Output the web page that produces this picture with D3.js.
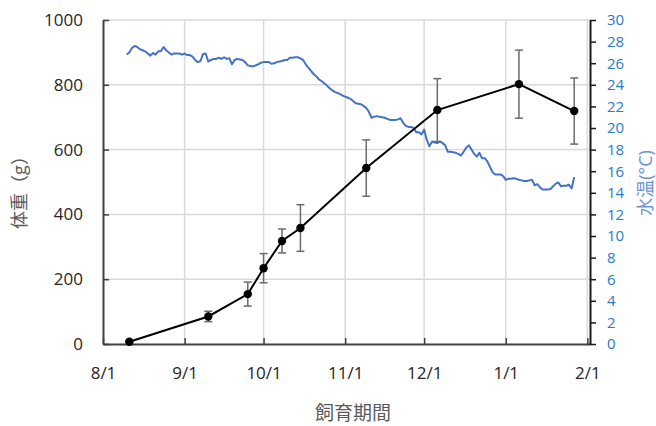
<!DOCTYPE html>
<html>
<head>
<meta charset="utf-8">
<script src="https://cdn.jsdelivr.net/npm/d3@7"></script>
<style>
  html, body { margin: 0; padding: 0; background: #fff; }
  svg { display: block; }
  text { font-family: "Open Sans", "Noto Sans CJK JP", sans-serif; }
</style>
</head>
<body>
<svg id="chart" width="656" height="426"></svg>
<script>
// Body weight samples (mean ± SD, g)
const weightDates = ["2020-08-11", "2020-09-10", "2020-09-25", "2020-10-01", "2020-10-08",
                     "2020-10-15", "2020-11-09", "2020-12-06", "2021-01-06", "2021-01-27"];
const weightMeans = [7, 85, 154, 234, 318, 358, 543, 722, 802, 719];
const weightSD    = [3, 16, 37, 45, 37, 72, 87, 97, 105, 102];

// Daily water temperature (°C), starting on tempStart
const tempStart = "2020-08-10";
const tempValues = [
  26.8, 27.0, 27.4, 27.6, 27.5, 27.3, 27.2, 27.1, 26.9, 26.7,
  26.95, 26.8, 27.1, 27.1, 27.5, 27.2, 27.0, 26.8, 26.9, 26.9,
  26.9, 26.8, 26.9, 26.75, 26.75, 26.6, 26.3, 26.1, 26.2, 26.85,
  26.9, 26.15, 26.3, 26.4, 26.4, 26.5, 26.4, 26.55, 26.4, 26.45,
  25.9, 26.3, 26.4, 26.35, 26.3, 26.1, 25.8, 25.75, 25.7, 25.8,
  25.9, 26.05, 26.1, 26.1, 26.1, 25.95, 26.0, 26.1, 26.15, 26.2,
  26.3, 26.3, 26.5, 26.5, 26.55, 26.55, 26.45, 26.3, 25.9, 25.6,
  25.3, 25.0, 24.8, 24.5, 24.35, 24.15, 23.95, 23.7, 23.5, 23.35,
  23.25, 23.15, 23.0, 22.9, 22.8, 22.7, 22.5, 22.3, 22.25, 22.2,
  22.05, 21.85, 21.5, 20.95, 21.05, 21.1, 21.05, 21.0, 20.95, 20.85,
  20.75, 20.75, 20.75, 20.8, 20.9, 20.5, 20.2, 20.1, 20.1, 20.0,
  19.6, 19.6, 19.4, 19.85, 18.9, 18.3, 18.75, 18.65, 18.6, 18.75,
  18.6, 18.4, 17.8, 17.8, 17.75, 17.7, 17.6, 17.45, 17.8, 18.2,
  18.4, 18.0, 17.6, 17.35, 17.7, 17.2, 17.2, 16.9, 16.4, 15.9,
  15.7, 15.7, 15.7, 15.55, 15.2, 15.3, 15.3, 15.35, 15.3, 15.2,
  15.15, 15.1, 15.1, 15.15, 15.2, 14.7, 14.8, 14.5, 14.3, 14.3,
  14.3, 14.35, 14.6, 14.85, 14.95, 14.6, 14.65, 14.65, 14.75, 14.4,
  15.45
];

// Axis settings
const xDomain = ["2020-08-01", "2021-02-02"];
const xTickDates = ["2020-08-01", "2020-09-01", "2020-10-01", "2020-11-01",
                    "2020-12-01", "2021-01-01", "2021-02-01"];
const weightTicks = [0, 200, 400, 600, 800, 1000];
const tempTicks = d3.range(0, 31, 2);

const parse = d3.timeParse("%Y-%m-%d");
const svg = d3.select("#chart");

const plot = { left: 103, right: 590, top: 20, bottom: 344 };

const x = d3.scaleTime().domain(xDomain.map(parse)).range([plot.left, plot.right]);
const yW = d3.scaleLinear().domain([0, 1000]).range([plot.bottom, plot.top]);
const yT = d3.scaleLinear().domain([0, 30]).range([plot.bottom, plot.top]);

const grid = "#d9d9d9";
const axisCol = "#404040";
const labelCol = "#262626";
const blueTick = "#2a7ac8";
const blueTitle = "#6d93d1";

// Gridlines
svg.append("g").selectAll("line").data(weightTicks.slice(1)).join("line")
  .attr("x1", plot.left).attr("x2", plot.right)
  .attr("y1", d => yW(d)).attr("y2", d => yW(d))
  .attr("stroke", grid).attr("stroke-width", 1.5);
svg.append("g").selectAll("line").data(xTickDates.slice(1).map(parse)).join("line")
  .attr("x1", d => x(d)).attr("x2", d => x(d))
  .attr("y1", plot.top).attr("y2", plot.bottom)
  .attr("stroke", grid).attr("stroke-width", 1.5);

// Water temperature line
const tStart = parse(tempStart);
const tempData = tempValues.map((v, i) => ({ date: d3.timeDay.offset(tStart, i), v }));
svg.append("path").datum(tempData)
  .attr("fill", "none").attr("stroke", "#4472c4").attr("stroke-width", 2)
  .attr("stroke-linejoin", "round")
  .attr("d", d3.line().x(d => x(d.date)).y(d => yT(d.v)));

// Axes
const xAxis = svg.append("g").attr("transform", `translate(0,${plot.bottom})`)
  .call(d3.axisBottom(x).tickValues(xTickDates.map(parse)).tickSizeInner(-6).tickSizeOuter(0)
    .tickFormat(d3.timeFormat("%-m/%-d")));
xAxis.select(".domain").attr("stroke", axisCol).attr("stroke-width", 2);
xAxis.selectAll(".tick line").attr("stroke", axisCol).attr("stroke-width", 1.5);
xAxis.selectAll(".tick text").attr("dy", 0).attr("y", 35)
  .attr("font-size", 17).attr("fill", labelCol);

const yAxisL = svg.append("g").attr("transform", `translate(${plot.left},0)`)
  .call(d3.axisLeft(yW).tickValues(weightTicks).tickFormat(d3.format("d"))
    .tickSizeInner(-6).tickSizeOuter(0).tickPadding(20));
yAxisL.select(".domain").attr("stroke", axisCol).attr("stroke-width", 2);
yAxisL.selectAll(".tick line").attr("stroke", axisCol).attr("stroke-width", 1.5);
yAxisL.selectAll(".tick text").attr("font-size", 17).attr("fill", labelCol);

const yAxisR = svg.append("g").attr("transform", `translate(${plot.right},0)`)
  .call(d3.axisRight(yT).tickValues(tempTicks).tickSize(6).tickSizeOuter(0).tickPadding(11));
yAxisR.select(".domain").attr("stroke", "#1a1a1a").attr("stroke-width", 2);
yAxisR.selectAll(".tick line").attr("stroke", "#1a1a1a").attr("stroke-width", 1.5);
yAxisR.selectAll(".tick text").attr("font-size", 15).attr("fill", blueTick);

// Body weight: error bars, line, markers
const wData = weightDates.map((d, i) => ({ date: parse(d), m: weightMeans[i], sd: weightSD[i] }));
const eb = svg.append("g").attr("stroke", "#6b6b6b").attr("stroke-width", 1.5);
eb.selectAll("line.v").data(wData).join("line").attr("class", "v")
  .attr("x1", d => x(d.date)).attr("x2", d => x(d.date))
  .attr("y1", d => yW(d.m + d.sd)).attr("y2", d => yW(Math.max(0, d.m - d.sd)));
eb.selectAll("line.t").data(wData).join("line").attr("class", "t")
  .attr("x1", d => x(d.date) - 4).attr("x2", d => x(d.date) + 4)
  .attr("y1", d => yW(d.m + d.sd)).attr("y2", d => yW(d.m + d.sd));
eb.selectAll("line.b").data(wData).join("line").attr("class", "b")
  .attr("x1", d => x(d.date) - 4).attr("x2", d => x(d.date) + 4)
  .attr("y1", d => yW(Math.max(0, d.m - d.sd))).attr("y2", d => yW(Math.max(0, d.m - d.sd)));

svg.append("path").datum(wData)
  .attr("fill", "none").attr("stroke", "#000").attr("stroke-width", 2)
  .attr("d", d3.line().x(d => x(d.date)).y(d => yW(d.m)));
svg.append("g").selectAll("circle").data(wData).join("circle")
  .attr("cx", d => x(d.date)).attr("cy", d => yW(d.m)).attr("r", 4.2)
  .attr("fill", "#000");

// Axis titles
svg.append("text").attr("transform", "translate(26,188) rotate(-90)")
  .attr("text-anchor", "middle").attr("font-size", 18).attr("fill", "#595959")
  .text("体重（g）");
svg.append("text").attr("transform", "translate(652,183) rotate(-90)")
  .attr("text-anchor", "middle").attr("font-size", 18).attr("fill", blueTitle)
  .text("水温(°C)");
svg.append("text").attr("x", 353).attr("y", 420)
  .attr("text-anchor", "middle").attr("font-size", 19).attr("fill", "#595959")
  .text("飼育期間");
</script>
</body>
</html>
